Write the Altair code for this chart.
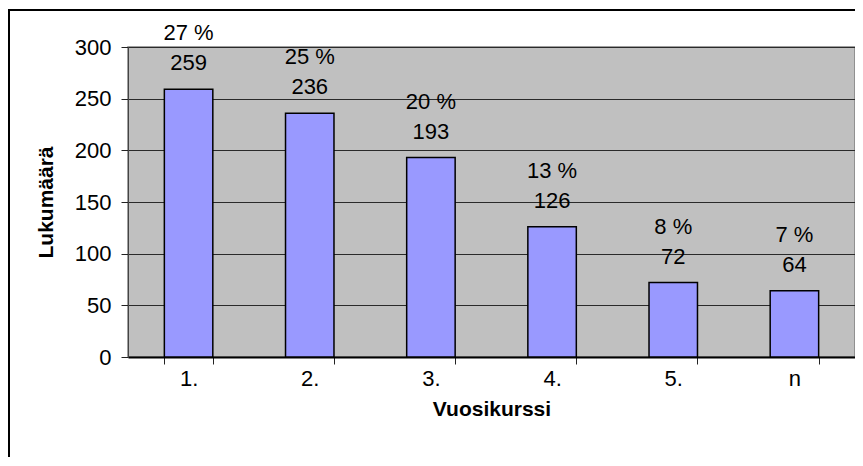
import altair as alt
import pandas as pd

categories = ["1.", "2.", "3.", "4.", "5.", "n"]
counts = [259, 236, 193, 126, 72, 64]
percents = ["27 %", "25 %", "20 %", "13 %", "8 %", "7 %"]
y_ticks = [0, 50, 100, 150, 200, 250, 300]

df = pd.DataFrame({"cat": categories, "count": counts, "pct": percents})
df["label"] = [f"{p}\n{c}" for p, c in zip(percents, counts)]

FONT = "Liberation Sans"
FS = 22
TFS = 21

x = alt.X(
    "cat:N",
    sort=categories,
    scale=alt.Scale(paddingInner=0.6, paddingOuter=0.3),
    axis=alt.Axis(
        title="Vuosikurssi",
        labelAngle=0,
        tickBand="extent",
        tickSize=7,
        tickColor="#222",
        domainColor="black",
        domainWidth=2,
        labelFont=FONT,
        labelFontSize=FS,
        labelColor="black",
        labelPadding=4,
        titleFont=FONT,
        titleFontSize=TFS,
        titleFontWeight="bold",
        titleColor="black",
        titlePadding=9,
    ),
)
y = alt.Y(
    "count:Q",
    scale=alt.Scale(domain=[0, 300], nice=False),
    axis=alt.Axis(
        title="Lukumäärä",
        values=y_ticks,
        grid=True,
        gridColor="#2a2a2a",
        gridWidth=1,
        tickSize=7,
        tickColor="#222",
        domainColor="#444",
        labelFont=FONT,
        labelFontSize=FS,
        labelColor="black",
        labelPadding=10,
        titleFont=FONT,
        titleFontSize=TFS,
        titleFontWeight="bold",
        titleColor="black",
        titlePadding=18,
    ),
)

bars = alt.Chart(df).mark_bar(
    color="#9999FF", stroke="black", strokeWidth=1.5
).encode(x=x, y=y)

labels = alt.Chart(df).mark_text(
    baseline="bottom", dy=-44, fontSize=FS, font=FONT, color="black",
    lineBreak="\n", lineHeight=30
).encode(x=alt.X("cat:N", sort=categories), y="count:Q", text="label:N")

border_df = pd.DataFrame({"k": [0]})
left_border = alt.Chart(border_df).mark_rule(color="black", strokeWidth=2).encode(
    x=alt.value(-119), y=alt.value(-37), y2=alt.value(430)
)
top_border = alt.Chart(border_df).mark_rule(color="black", strokeWidth=2).encode(
    x=alt.value(-120), x2=alt.value(740), y=alt.value(-37)
)

chart = alt.layer(bars, labels, left_border, top_border).properties(
    width=727,
    height=310,
    autosize=alt.AutoSizeParams(type="none"),
    padding={"left": 120, "top": 39, "right": 0, "bottom": 100},
    background="white",
).configure_view(fill="#C0C0C0", stroke="#808080", strokeWidth=1.5)

chart.save("out.html", embed_options={"renderer": "svg", "actions": False})
